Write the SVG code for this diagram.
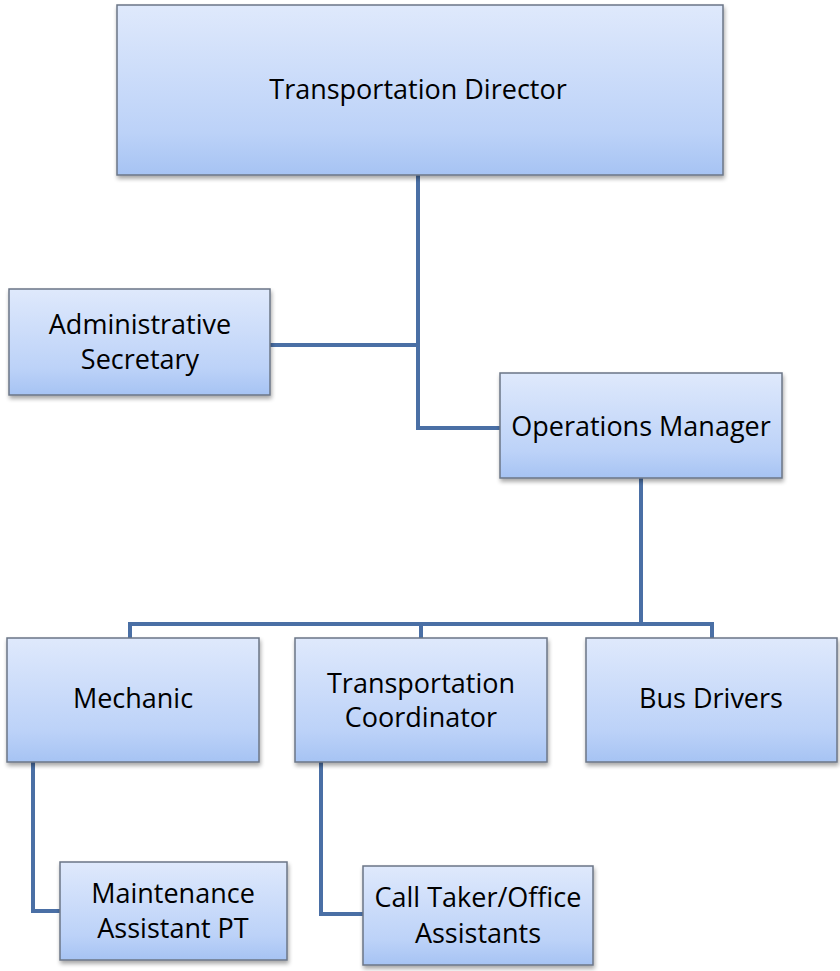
<svg xmlns="http://www.w3.org/2000/svg" width="840" height="971" viewBox="0 0 840 971">
<defs>
<linearGradient id="g" x1="0" y1="0" x2="0" y2="1">
<stop offset="0" stop-color="#dfe9fc"/>
<stop offset="0.75" stop-color="#bcd2f8"/>
<stop offset="1" stop-color="#a6c3f3"/>
</linearGradient>
<filter id="sh" x="-5%" y="-5%" width="112%" height="120%">
<feGaussianBlur in="SourceAlpha" stdDeviation="2"/>
<feOffset dx="1" dy="3"/>
<feComponentTransfer><feFuncA type="linear" slope="0.35"/></feComponentTransfer>
<feMerge><feMergeNode/><feMergeNode in="SourceGraphic"/></feMerge>
</filter>
</defs>
<style>
.box{fill:url(#g);stroke:#6b7686;stroke-width:1.5;filter:url(#sh)}
.t{font-family:"Open Sans","Noto Sans",sans-serif;font-size:27px;fill:#000;text-anchor:middle}
.c{fill:none;stroke:#4a6fa5;stroke-width:4;stroke-linejoin:miter}
</style>
<rect width="840" height="971" fill="#fff"/>
<g id="connectors">
<path class="c" d="M418,175 V428 H500"/>
<path class="c" d="M270,345 H418"/>
<path class="c" d="M641,478 V624 M130,638 V624 H712 V638 M421,624 V638"/>
<path class="c" d="M33,762 V911 H60"/>
<path class="c" d="M321,762 V914 H363"/>
</g>
<g id="director"><rect class="box" x="117" y="5" width="606" height="170"/><text class="t" x="418" y="99">Transportation Director</text></g>
<g id="admin"><rect class="box" x="9" y="289" width="261" height="106"/><text class="t" x="140" y="334">Administrative</text><text class="t" x="140" y="369">Secretary</text></g>
<g id="ops"><rect class="box" x="500" y="373" width="282" height="105"/><text class="t" x="641" y="436">Operations Manager</text></g>
<g id="mechanic"><rect class="box" x="7" y="638" width="252" height="124"/><text class="t" x="133" y="708">Mechanic</text></g>
<g id="coord"><rect class="box" x="295" y="638" width="252" height="124"/><text class="t" x="421" y="693">Transportation</text><text class="t" x="421" y="727">Coordinator</text></g>
<g id="bus"><rect class="box" x="586" y="638" width="251" height="124"/><text class="t" x="711" y="708">Bus Drivers</text></g>
<g id="maint"><rect class="box" x="60" y="862" width="227" height="98"/><text class="t" x="173" y="903">Maintenance</text><text class="t" x="173" y="938">Assistant PT</text></g>
<g id="calltaker"><rect class="box" x="363" y="866" width="230" height="99"/><text class="t" x="478" y="907">Call Taker/Office</text><text class="t" x="478" y="943">Assistants</text></g>
</svg>
